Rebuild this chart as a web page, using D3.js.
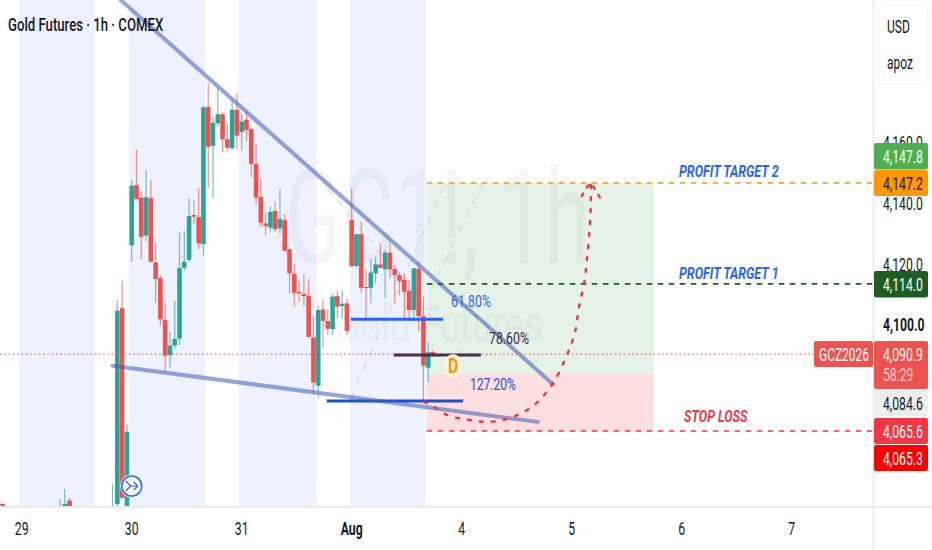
<!DOCTYPE html>
<html lang="en">
<head>
<meta charset="UTF-8">
<title>Gold Futures 1h</title>
<script src="https://d3js.org/d3.v7.min.js"></script>
<style>
    html, body { margin: 0; padding: 0; background: #fff; }
    svg { display: block; }
    text { font-family: Roboto, "Noto Sans", sans-serif; }
</style>
</head>
<body>
<svg id="chart" width="932" height="550"></svg>
<script>
// bars are hours counted from the "30" tick
const barIndex = [-27,-15,-14,-13,-4,-3,-2,-1,0,1,2,3,4,5,6,7,8,9,10,11,12,13,14,15,16,17,18,19,20,21,22,23,24,25,26,27,28,29,30,31,32,33,34,35,36,37,38,39,40,41,42,43,44,45,46,47,48,49,50,51,52,53,54,55,56,57,58,59,60,61,62,63];
const open = [4041.6,4039.8,4040.6,4042.7,4038.5,4041.6,4106,4038,4126.7,4146.5,4142.4,4129.9,4142.2,4121.1,4115.9,4102.1,4090.6,4093.7,4096,4119.3,4121.9,4136.7,4136,4127.1,4172.2,4159.4,4166.8,4169.8,4161.6,4158.6,4171.3,4164,4168,4164.9,4153.5,4142.6,4133.9,4132.5,4138,4132.3,4135,4125.4,4117.3,4111.4,4110.7,4110.1,4096.4,4080.5,4105.6,4101.8,4099.1,4110,4106.7,4107.6,4135,4119.9,4130.4,4113,4112.7,4117.5,4120.4,4118.8,4124.3,4118.9,4116.9,4115.3,4111.7,4105.4,4118.9,4103.4,4086.4,4091.6];
const high = [4041.8,4043.2,4046.5,4043.6,4048.2,4108.7,4115,4067.8,4148.2,4158.1,4144.3,4151.5,4148.2,4127.5,4116.9,4108,4098.2,4108.4,4131,4131.5,4142.2,4141.4,4145.4,4172.5,4180.2,4169.2,4178.3,4170.5,4166.8,4174.5,4176.7,4169.8,4170.7,4165.5,4160,4148.7,4137.3,4139.5,4141,4145.4,4136.9,4125.5,4120.8,4114.7,4117.2,4115.6,4103.4,4106.8,4108.9,4105.7,4110.6,4111.7,4111.8,4109.3,4145.4,4130.6,4134.5,4118.8,4122.1,4122.9,4127.4,4125.1,4127.4,4120.2,4117.8,4117.5,4115.3,4119.2,4121.3,4109.8,4094.8,4092.2];
const low = [4040,4039.6,4040,4040,4038,4040.6,4043.2,4037,4121.2,4141.8,4122.2,4127.9,4121.2,4107.8,4100.2,4085.1,4086.4,4092.6,4093.9,4118.3,4121.3,4133.7,4125.5,4123.3,4145.6,4142.2,4165.7,4157.3,4157.8,4158.3,4158.3,4158.1,4161,4149.1,4140.2,4132.6,4130,4131.2,4131.2,4130.6,4124.8,4110.9,4106.5,4108.1,4106.5,4096.5,4077.7,4076.6,4093,4097.2,4097.2,4102.7,4102.7,4097.4,4119.5,4119.5,4111.1,4102.7,4107.8,4114.2,4119.2,4109.3,4115.8,4107.4,4110.3,4102.4,4102.1,4101.6,4098.3,4074.7,4081.6,4090];
const close = [4040.3,4040,4041.6,4040.3,4040,4105.2,4043.6,4065.4,4146.3,4141.9,4129.5,4142.5,4121.3,4115.6,4102.4,4090.4,4093.7,4095.9,4119.2,4121.3,4136.3,4136.1,4127.4,4172.1,4159.1,4167,4169.8,4161.6,4158.8,4171.3,4162.8,4167.4,4164.6,4153.5,4142.4,4134.1,4133,4137.7,4132,4135.4,4124.9,4117.5,4111.1,4110.9,4110,4096.6,4081.5,4105.4,4101.8,4099.2,4109.8,4106.5,4107.5,4098.5,4119.9,4130.3,4112.7,4112.6,4117.7,4120.4,4119.3,4124.3,4118.8,4116.9,4115,4111.4,4105.4,4119.1,4103.4,4087.1,4091.5,4090.9];

const dayBars = [-23, 0, 23, 46, 69, 92, 115, 138];
const dayLabels = ["29", "30", "31", "Aug", "4", "5", "6", "7"];
const sessionStart = [-23.6, -0.6, 22.4, 45.6];
const sessionEnd = [-7.7, 15.4, 38.6, 61.6];
const priceTicks = [4160, 4140, 4120, 4100];

const entryPrice = 4084.6, targetPrice = 4147.2, targetOne = 4114, stopPrice = 4065.6, lastPrice = 4090.9;
const boxStart = 61.7, boxEnd = 109.2;

// [bar, price] pairs of the hand drawn tools
const upperTrend = [[-2.3, 4207.4], [88.1, 4081]];
const lowerTrend = [[-4, 4087.1], [84.9, 4068.6]];
const faintLines = [
    [[41, 4145.5], [69.1, 4090.6]],
    [[65.1, 4145.9], [45.4, 4074.8]],
    [[73.4, 4147.2], [61.9, 4110.3]]
];
const curveBars = [61.1, 62.6, 65.9, 70.7, 74.5, 79.1, 83.9, 88.1, 91.2, 92.7, 93.5, 94.6, 95.2, 95.8, 96, 96];
const curvePrices = [4075.1, 4074.2, 4070.9, 4069.2, 4068.6, 4069.9, 4073.8, 4081.4, 4091.3, 4098.2, 4106.1, 4114.3, 4122.2, 4133.4, 4141.6, 4147.2];
const arrowHead = [[94.1, 4142.9], [95, 4145.5], [96, 4147.2], [97, 4144.9], [98.1, 4141.9]];

const fibLabels = ["61.80%", "78.60%", "127.20%"];
const fibPrices = [4102.4, 4090.6, 4075.5];
const fibFrom = [45.8, 54.8, 40.8];
const fibTo = [65.1, 73, 69.3];
const fibColors = ["#2962ff", "#3b2a57", "#1a4fd8"];

const tagTexts = ["4,147.8", "4,147.2", "4,114.0", "4,090.9", "4,084.6", "4,065.6", "4,065.3"];
const tagFills = ["#4caf50", "#ff9800", "#1b5e20", "#ef5350", "#eeeff1", "#f23645", "#ff0000"];
const tagInk = ["#fff", "#131722", "#fff", "#fff", "#131722", "#fff", "#fff"];

const plotW = 873, plotH = 506, squeeze = 0.66, axisFont = 18.5;
const svg = d3.select("#chart");

const x = d3.scaleLinear().domain([0, 46]).range([131.7, 351.7]);
const y = d3.scaleLinear().domain([4147.2, 4065.6]).range([183, 431]);
const px = d => [x(d[0]), y(d[1])];

svg.append("clipPath").attr("id", "plot").append("rect").attr("width", plotW).attr("height", plotH);
const plot = svg.append("g").attr("clip-path", "url(#plot)");

// session backgrounds
plot.selectAll(".band").data(sessionStart).enter().append("rect")
    .attr("x", d => x(d))
    .attr("width", (d, i) => x(sessionEnd[i]) - x(d))
    .attr("y", 0).attr("height", plotH)
    .attr("fill", "#edf2fe");

// position box
plot.append("rect").attr("x", x(boxStart)).attr("width", x(boxEnd) - x(boxStart))
    .attr("y", y(targetPrice)).attr("height", y(entryPrice) - y(targetPrice)).attr("fill", "#e5f2e6");
plot.append("rect").attr("x", x(boxStart)).attr("width", x(boxEnd) - x(boxStart))
    .attr("y", y(entryPrice)).attr("height", y(stopPrice) - y(entryPrice)).attr("fill", "#fddfdf");

// text squeezed to the width it has in the picture
function squeezed(parent, txt, tx, ty, width, size) {
    const t = parent.append("text").text(txt).attr("font-size", size);
    const len = t.node().getComputedTextLength();
    return t.attr("transform", `translate(${tx},${ty}) scale(${width / len},1)`);
}

// watermark
squeezed(plot, "GC1!, 1h", 285, 263, 305, 132).attr("fill", "#6a7390").attr("opacity", 0.06);
squeezed(plot, "Gold Futures", 335, 341, 208, 48).attr("fill", "#6a7390").attr("opacity", 0.05);

plot.selectAll(".faint").data(faintLines).enter().append("line")
    .attr("x1", d => x(d[0][0])).attr("y1", d => y(d[0][1]))
    .attr("x2", d => x(d[1][0])).attr("y2", d => y(d[1][1]))
    .attr("stroke", "#d3d8e2").attr("stroke-width", 1.2).attr("stroke-dasharray", "7 9");

// candles
const up = "#26a69a", down = "#f2504f";
const colorOf = i => close[i] >= open[i] ? up : down;
plot.selectAll(".wick").data(barIndex).enter().append("line")
    .attr("x1", d => x(d)).attr("x2", d => x(d))
    .attr("y1", (d, i) => y(high[i])).attr("y2", (d, i) => y(low[i]))
    .attr("stroke", (d, i) => colorOf(i)).attr("stroke-width", 1.2).attr("opacity", 0.65);
plot.selectAll(".body").data(barIndex).enter().append("rect")
    .attr("x", d => x(d) - 2.3).attr("width", 4.6)
    .attr("y", (d, i) => y(Math.max(open[i], close[i])))
    .attr("height", (d, i) => Math.max(1.2, Math.abs(y(open[i]) - y(close[i]))))
    .attr("fill", (d, i) => colorOf(i));

// fib levels
plot.selectAll(".fib").data(fibPrices).enter().append("line")
    .attr("x1", (d, i) => x(fibFrom[i])).attr("x2", (d, i) => x(fibTo[i]))
    .attr("y1", d => y(d)).attr("y2", d => y(d))
    .attr("stroke", (d, i) => fibColors[i]).attr("stroke-width", 3);

// horizontal targets
[[targetPrice, "#ff9800"], [targetOne, "#1b5e20"], [stopPrice, "#f23645"]].forEach(l => {
    plot.append("line").attr("x1", x(boxStart)).attr("x2", plotW)
        .attr("y1", y(l[0])).attr("y2", y(l[0]))
        .attr("stroke", l[1]).attr("stroke-width", 1.6).attr("stroke-dasharray", "5.5 5.5");
});

// trend lines
[upperTrend, lowerTrend].forEach(t => {
    plot.append("path").attr("d", d3.line()(t.map(px)))
        .attr("stroke", "#3c5bb8").attr("stroke-width", 4).attr("stroke-opacity", 0.55)
        .attr("stroke-linecap", "round").attr("fill", "none");
});

// last price line
svg.append("line").attr("x1", 0).attr("x2", 814)
    .attr("y1", y(lastPrice)).attr("y2", y(lastPrice))
    .attr("stroke", "#f0424f").attr("stroke-width", 1).attr("stroke-dasharray", "1.5 2.8");

// projected move
const curve = d3.line().curve(d3.curveCatmullRom);
plot.append("path").attr("d", curve(curveBars.map((b, i) => px([b, curvePrices[i]]))))
    .attr("stroke", "#f5333f").attr("stroke-width", 2.4).attr("stroke-dasharray", "3 9")
    .attr("stroke-linecap", "round").attr("fill", "none");
plot.append("path").attr("d", d3.line()(arrowHead.map(px)))
    .attr("stroke", "#f5333f").attr("stroke-width", 2.4).attr("stroke-dasharray", "3 7")
    .attr("stroke-linecap", "round").attr("fill", "none");

// D point marker
plot.append("ellipse").attr("cx", 453).attr("cy", 366).attr("rx", 9).attr("ry", 12).attr("fill", "#fdf1e2");
squeezed(plot, "D", 448, 373, 10.5, 20).attr("font-weight", 700).attr("fill", "#ff9800");

// merge icon
const icon = plot.append("g").attr("transform", `translate(${x(0)},486)`);
icon.append("circle").attr("r", 11.5).attr("fill", "#fff");
icon.append("circle").attr("r", 10).attr("fill", "#fff").attr("stroke", "#2962ff").attr("stroke-width", 1.6);
icon.append("path").attr("d", "M-6,-5L-1,0H6M2,-4L6,0L2,4M-6,5L-1,0")
    .attr("fill", "none").attr("stroke", "#2962ff").attr("stroke-width", 1.2);

// annotation text
squeezed(svg, fibLabels[0], 451, 307, 40, 16.5).attr("fill", "#2962ff");
squeezed(svg, fibLabels[1], 489, 344, 40, 16.5).attr("fill", "#3b2a47");
squeezed(svg, fibLabels[2], 470, 390, 46, 16.5).attr("fill", "#1a4fd8");
[["PROFIT TARGET 2", 679, 177, 101, "#2962ff"], ["PROFIT TARGET 1", 679, 279, 101, "#2962ff"], ["STOP LOSS", 684, 422, 64, "#f23645"]].forEach(a => {
    squeezed(svg, a[0], a[1], a[2], a[3], 17).attr("font-weight", 700)
        .attr("font-style", "italic").attr("fill", a[4]);
});

squeezed(svg, "Gold Futures \u00b7 1h \u00b7 COMEX", 8, 31, 154, 18.5)
    .attr("font-weight", 500).attr("fill", "#131722");

// axis borders
svg.append("line").attr("x1", 873.5).attr("x2", 873.5).attr("y1", 0).attr("y2", 550)
    .attr("stroke", "#e8e9ee").attr("stroke-width", 1.5);
svg.append("line").attr("x1", 0).attr("x2", 932).attr("y1", 507).attr("y2", 507)
    .attr("stroke", "#e2e3e8").attr("stroke-width", 1.5);

// time axis
const xAxis = d3.axisBottom(x).tickValues(dayBars).tickSize(0).tickFormat((d, i) => dayLabels[i]);
const gx = svg.append("g").attr("transform", "translate(0,507)").call(xAxis);
gx.select(".domain").remove();
gx.selectAll("text").attr("y", 0).attr("dy", 0)
    .attr("transform", `translate(-0.5,28) scale(${squeeze},1)`)
    .attr("font-size", axisFont).attr("fill", "#131722").attr("font-family", "Roboto")
    .attr("font-weight", (d, i) => dayLabels[i] === "Aug" ? 700 : 400);

// price axis
const yAxis = d3.axisRight(y).tickValues(priceTicks).tickSize(0).tickFormat(d3.format(",.1f"));
const gy = svg.append("g").attr("transform", "translate(883,0)").call(yAxis);
gy.select(".domain").remove();
gy.selectAll("text").attr("x", 0).attr("dy", 0)
    .attr("transform", `translate(0,4.5) scale(${squeeze},1)`)
    .attr("font-size", axisFont).attr("fill", "#131722").attr("font-family", "Roboto")
    .attr("font-weight", d => d === 4100 ? 700 : 400);

// price tags
const tagTops = [143, 170, 271, 341, 390, 418, 445];
const tagHeights = [26.5, 26, 26.5, 48, 26, 26, 26];
const tags = svg.selectAll(".tag").data(tagTexts).enter().append("g")
    .attr("transform", (d, i) => `translate(874,${tagTops[i]})`);
tags.append("rect").attr("width", 54).attr("height", (d, i) => tagHeights[i]).attr("rx", 2)
    .attr("fill", (d, i) => tagFills[i]);
tags.append("text").text(d => d)
    .attr("transform", `translate(9,19.5) scale(${squeeze},1)`)
    .attr("font-size", axisFont).attr("fill", (d, i) => tagInk[i]);

// countdown under the last price
svg.append("text").text("58:29").attr("transform", `translate(883,381) scale(${squeeze},1)`)
    .attr("font-size", axisFont).attr("fill", "#fcc");

// symbol tag on the left of the axis
svg.append("rect").attr("x", 814).attr("y", 341).attr("width", 59).attr("height", 26).attr("rx", 2).attr("fill", "#ef5350");
squeezed(svg, "GCZ2026", 819, 360.5, 50, 18).attr("fill", "#fff");

// currency button
svg.append("rect").attr("x", 878).attr("y", 6).attr("width", 50).attr("height", 78).attr("rx", 5)
    .attr("fill", "#fff").attr("stroke", "#f2f3f6");
squeezed(svg, "USD", 887, 32.5, 23, 19).attr("fill", "#131722");
squeezed(svg, "apoz", 887, 69, 26, 19).attr("fill", "#131722");
</script>
</body>
</html>
